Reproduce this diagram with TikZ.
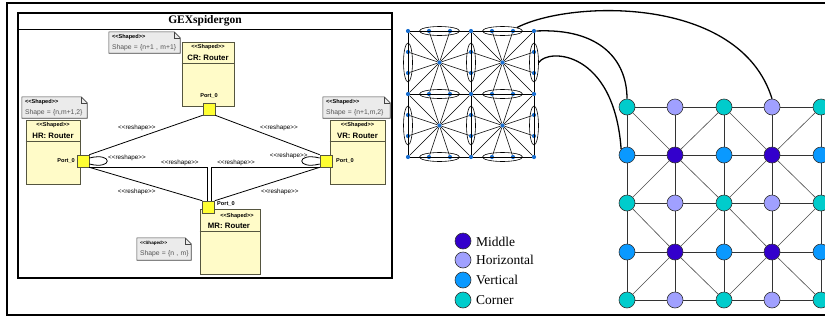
\documentclass[tikz,border=0pt]{standalone}
\usepackage{fontspec}
\setmainfont{Liberation Serif}
\newfontfamily\arialf{Liberation Sans}
\usetikzlibrary{shapes.geometric}
\pgfdeclarelayer{bg}
\pgfsetlayers{bg,main}
\definecolor{boxfill}{HTML}{FFFBC8}
\definecolor{boxline}{HTML}{55553F}
\definecolor{portfill}{HTML}{FFFF33}
\definecolor{notefill}{HTML}{EBEBEB}
\definecolor{noteline}{HTML}{444444}
\definecolor{notetext}{HTML}{555555}
\definecolor{cMid}{HTML}{3300CC}
\definecolor{cHor}{HTML}{A0A0FF}
\definecolor{cVer}{HTML}{0A99FF}
\definecolor{cCor}{HTML}{00CCCC}
\definecolor{dotblue}{HTML}{1A6FD0}
\newcommand\stL{<\kern0pt<}
\newcommand\stR{>\kern0pt>}
\newcommand\fSt{\arialf\bfseries\fontsize{5.6}{6}\selectfont}
\newcommand\fNm{\arialf\bfseries\fontsize{7.8}{9}\selectfont}
\newcommand\fPt{\arialf\bfseries\fontsize{5.6}{6}\selectfont}
\newcommand\fLb{\arialf\fontsize{6.3}{7}\selectfont}
\begin{document}
\begin{tikzpicture}[x=1pt,y=-1pt,
  conn/.style={draw=black, line width=0.8pt},
  umlbox/.style={draw=boxline, fill=boxfill, line width=0.6pt, inner sep=0pt},
  port/.style={draw=boxline, fill=portfill, line width=0.6pt, minimum size=12pt, inner sep=0pt},
  stereo/.style={font=\fSt, inner sep=0pt},
  rname/.style={font=\fNm, inner sep=0pt},
  plbl/.style={font=\fPt, inner sep=0pt},
  lbl/.style={font=\fLb, inner sep=0pt},
  notebox/.style={inner xsep=3pt, inner ysep=0pt, align=left,
    font=\arialf\fontsize{6.8}{10.5}\selectfont},
  noteshape/.style={draw=noteline, fill=notefill, line width=0.6pt},
  dot/.style={circle, fill=dotblue, minimum size=4.2pt, inner sep=0pt},
  spoke/.style={draw=black, line width=0.6pt},
  pairell/.style={ellipse, draw=black, line width=0.6pt, inner sep=0pt},
  gn/.style={circle, draw=black!80, line width=0.6pt, minimum size=16pt, inner sep=0pt},
  gedge/.style={draw=black!80, line width=0.8pt},
  gdiag/.style={draw=black!70, line width=0.6pt},
  legtxt/.style={font=\fontsize{13.5}{15}\selectfont, inner sep=0pt, anchor=west},
  curve/.style={draw=black, line width=1.3pt}
]
\useasboundingbox (0,0) rectangle (825,322);
\clip (0,0) rectangle (825,322);

% outer and inner frames
\draw[line width=2pt] (7,3) rectangle (850,315);
\draw[line width=1.1pt] (18,13) rectangle (392,278);
\draw[line width=0.8pt] (18,29) -- (392,29);
\node[font=\bfseries\fontsize{11.5}{13}\selectfont, inner sep=0pt] (title) at (205,21) {GEXspidergon};

% router boxes
\node[umlbox, minimum width=52pt, minimum height=64pt] (CR) at (208,74) {};
\node[umlbox, minimum width=54pt, minimum height=64pt] (HR) at (53,152) {};
\node[umlbox, minimum width=55pt, minimum height=64pt] (VR) at (357.5,152) {};
\node[umlbox, minimum width=60pt, minimum height=65pt] (MR) at (230,241.5) {};
\draw[boxline, line width=0.6pt] (CR.west |- 0,63) -- (CR.east |- 0,63);
\draw[boxline, line width=0.6pt] (HR.west |- 0,141) -- (HR.east |- 0,141);
\draw[boxline, line width=0.6pt] (VR.west |- 0,141) -- (VR.east |- 0,141);
\draw[boxline, line width=0.6pt] (MR.west |- 0,231) -- (MR.east |- 0,231);
\node[stereo] (CRs) at (208,47.5) {\stL Shaped\stR};
\node[rname] (CRt) at (208,57.5) {CR: Router};
\node[stereo] (HRs) at (53,125.5) {\stL Shaped\stR};
\node[rname] (HRt) at (53,135.5) {HR: Router};
\node[stereo] (VRs) at (357.5,125.5) {\stL Shaped\stR};
\node[rname] (VRt) at (357.5,135.5) {VR: Router};
\node[stereo] (MRs) at (237,216) {\stL Shaped\stR};
\node[rname] (MRt) at (229,226) {MR: Router};

% ports
\node[port] (CRp) at (209,109) {};
\node[port] (HRp) at (83,161) {};
\node[port] (VRp) at (326,161) {};
\node[port] (MRp) at (208.5,207) {};
\node[plbl] (CRpl) at (209,96) {Port\_0};
\node[plbl, anchor=east] (HRpl) at (75,161) {Port\_0};
\node[plbl, anchor=west] (VRpl) at (336,161) {Port\_0};
\node[plbl, anchor=west] (MRpl) at (217,204) {Port\_0};

% notes
\node[notebox, text width=65pt, minimum height=21pt] (CRn) at (144.5,42.5)
  {\mbox{\bfseries\fontsize{5.6}{10.5}\selectfont \stL Shaped\stR}\\\mbox{\color{notetext}Shape = \{n+1 , m+1\}}};
\node[notebox, text width=59pt, minimum height=21pt] (HRn) at (54.5,107.5)
  {\mbox{\bfseries\fontsize{5.6}{10.5}\selectfont \stL Shaped\stR}\\\mbox{\color{notetext}Shape = \{n,m+1,2\}}};
\node[notebox, text width=61pt, minimum height=21pt] (VRn) at (356.5,107.5)
  {\mbox{\bfseries\fontsize{5.6}{10.5}\selectfont \stL Shaped\stR}\\\mbox{\color{notetext}Shape = \{n+1,m,2\}}};
\node[notebox, text width=48pt, minimum height=22pt] (MRn) at (164,249)
  {\mbox{\bfseries\fontsize{4.6}{10}\selectfont \stL Shaped\stR}\\\mbox{\color{notetext}Shape = \{n , m\}}};
\begin{pgfonlayer}{bg}
\foreach \n in {CRn,HRn,VRn,MRn}{
  \draw[noteshape] (\n.south west) -- (\n.north west) -- ([xshift=-6pt]\n.north east)
     -- ([yshift=-6pt]\n.north east) -- (\n.south east) -- cycle;
  \draw[noteshape, fill=none] ([xshift=-6pt]\n.north east) -- ([xshift=-6pt,yshift=-6pt]\n.north east)
     -- ([yshift=-6pt]\n.north east);
}
\end{pgfonlayer}

% reshape connectors
\draw[conn] (CRp.south west) -- (HRp.north east)
  node[lbl, pos=0.58, yshift=10pt] (l1) {\stL reshape\stR};
\draw[conn] (CRp.south east) -- (VRp.north west)
  node[lbl, pos=0.61, yshift=11pt] (l2) {\stL reshape\stR};
\draw[conn] (HRp.south east) -- (MRp.north west)
  node[lbl, pos=0.42, yshift=-10.5pt] (l3) {\stL reshape\stR};
\draw[conn] (VRp.south west) -- (MRp.north east)
  node[lbl, pos=0.38, yshift=-12pt] (l4) {\stL reshape\stR};
\draw[conn] (HRp.south east) -| ([xshift=-1.5pt]MRp.north)
  node[lbl, pos=0.385, yshift=4.5pt] (l5) {\stL reshape\stR};
\draw[conn] (VRp.south west) -| ([xshift=2.5pt]MRp.north)
  node[lbl, pos=0.385, yshift=4.5pt] (l6) {\stL reshape\stR};
\draw[conn] ([yshift=3pt]HRp.east) .. controls +(24,-6) and +(24,6) .. ([yshift=-3pt]HRp.east)
  node[lbl, pos=0.5, anchor=west, xshift=0.5pt, yshift=3pt] (l7) {\stL reshape\stR};
\draw[conn] ([yshift=3pt]VRp.west) .. controls +(-24,-6) and +(-24,6) .. ([yshift=-3pt]VRp.west)
  node[lbl, pos=0.5, xshift=-13pt, yshift=5pt] (l8) {\stL reshape\stR};

% ---- spidergon (left graph)
\foreach \i in {0,1,2}{
  \foreach \j in {0,1,2}{
    \node[dot] (c-\i-\j) at ({408+63*\i},{31+63*\j}) {};
  }
}
\foreach \i in {0,1}{
  \foreach \j in {0,1,2}{
    \node[pairell, minimum width=40pt, minimum height=9pt] (eh-\i-\j) at ({439.5+63*\i},{31+63*\j}) {};
    \node[dot] (h-\i-\j-1) at ({429+63*\i},{31+63*\j}) {};
    \node[dot] (h-\i-\j-2) at ({450+63*\i},{31+63*\j}) {};
  }
}
\foreach \i in {0,1,2}{
  \foreach \j in {0,1}{
    \node[pairell, minimum width=9pt, minimum height=39pt] (ev-\i-\j) at ({408+63*\i},{62.5+63*\j}) {};
    \node[dot] (v-\i-\j-1) at ({408+63*\i},{52+63*\j}) {};
    \node[dot] (v-\i-\j-2) at ({408+63*\i},{73+63*\j}) {};
  }
}
\foreach \i in {0,1}{
  \foreach \j in {0,1}{
    \node[dot] (m-\i-\j) at ({439.5+63*\i},{62.5+63*\j}) {};
  }
}
% grid lines
\foreach \j in {0,1,2}{
  \draw[spoke] (c-0-\j) -- (c-1-\j) -- (c-2-\j);
  \draw[spoke] (c-\j-0) -- (c-\j-1) -- (c-\j-2);
}
% spokes
\foreach \i/\ii in {0/1,1/2}{
  \foreach \j/\jj in {0/1,1/2}{
    \foreach \t in {c-\i-\j, c-\ii-\j, c-\i-\jj, c-\ii-\jj,
                   h-\i-\j-1, h-\i-\j-2, h-\i-\jj-1, h-\i-\jj-2,
                   v-\i-\j-1, v-\i-\j-2, v-\ii-\j-1, v-\ii-\j-2}{
      \draw[spoke] (m-\i-\j) -- (\t);
    }
  }
}

% ---- right grid
\foreach \i/\x in {0/627,1/675,2/724,3/772,4/821}{
  \foreach \j/\y in {0/107,1/155,2/203,3/252,4/300}{
    \pgfmathtruncatemacro\ti{mod(\i,2)}
    \pgfmathtruncatemacro\tj{mod(\j,2)}
    \ifnum\ti=0
      \ifnum\tj=0 \def\gc{cCor}\else \def\gc{cVer}\fi
    \else
      \ifnum\tj=0 \def\gc{cHor}\else \def\gc{cMid}\fi
    \fi
    \node[gn, fill=\gc] (g-\i-\j) at (\x,\y) {};
  }
}
\foreach \a/\b in {0/1,1/2,2/3,3/4}{
  \foreach \k in {0,1,2,3,4}{
    \draw[gedge] (g-\a-\k) -- (g-\b-\k);
    \draw[gedge] (g-\k-\a) -- (g-\k-\b);
  }
}
\foreach \i in {1,3}{
  \foreach \j in {1,3}{
    \pgfmathtruncatemacro\il{\i-1}
    \pgfmathtruncatemacro\ir{\i+1}
    \pgfmathtruncatemacro\ju{\j-1}
    \pgfmathtruncatemacro\jd{\j+1}
    \draw[gdiag] (g-\i-\j) -- (g-\il-\ju);
    \draw[gdiag] (g-\i-\j) -- (g-\ir-\ju);
    \draw[gdiag] (g-\i-\j) -- (g-\il-\jd);
    \draw[gdiag] (g-\i-\j) -- (g-\ir-\jd);
  }
}

% mapping curves
\draw[curve] (eh-1-0.north east) .. controls (570,0) and (740,-5) .. (g-3-0.north);
\draw[curve] (c-2-0.east) .. controls (600,28) and (627,60) .. (g-0-0.north);
\draw[curve] (ev-2-0.east) .. controls (548,48) and (614,50) .. (g-0-1.north west);

% legend
\node[gn, fill=cMid] (lg1) at (463,241) {};
\node[gn, fill=cHor] (lg2) at (463,260) {};
\node[gn, fill=cVer] (lg3) at (463,280) {};
\node[gn, fill=cCor] (lg4) at (463,300) {};
\node[legtxt] (lt1) at (476,242) {Middle};
\node[legtxt] (lt2) at (476,260) {Horizontal};
\node[legtxt] (lt3) at (476,280) {Vertical};
\node[legtxt] (lt4) at (476,300) {Corner};
\end{tikzpicture}
\end{document}
